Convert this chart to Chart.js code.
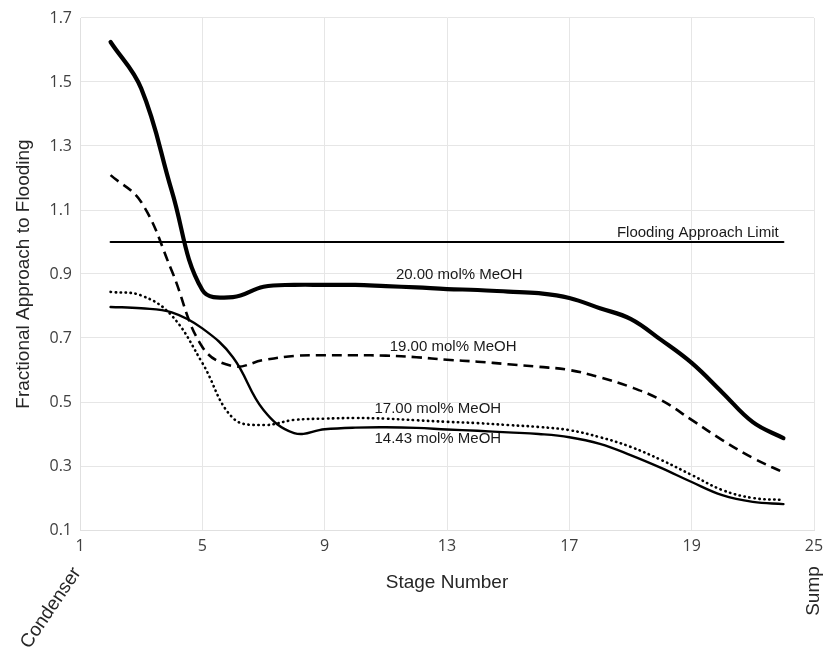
<!DOCTYPE html>
<html>
<head>
<meta charset="utf-8">
<script src="https://cdn.jsdelivr.net/npm/chart.js@4"></script>
<style>
  html, body { margin: 0; padding: 0; background: #fff; }
  #wrap { width: 825px; height: 651px; }
</style>
</head>
<body>
<div id="wrap"><canvas id="myChart" width="825" height="651"></canvas></div>
<script>
// stage numbers (x) and fractional approach to flooding per composition
var stages = [2, 3, 4, 5, 6, 7, 8, 9, 10, 11, 12, 13, 14, 15, 16, 17, 18, 19, 20, 21, 22, 23, 24]
var meoh2000 = [1.625, 1.48, 1.16, 0.85, 0.828, 0.86, 0.866, 0.866, 0.866, 0.862, 0.858, 0.853, 0.85, 0.845, 0.84, 0.825, 0.793, 0.76, 0.694, 0.622, 0.53, 0.437, 0.387]
var meoh1900 = [1.209, 1.125, 0.91, 0.672, 0.612, 0.631, 0.644, 0.646, 0.646, 0.645, 0.64, 0.632, 0.626, 0.618, 0.61, 0.6, 0.577, 0.547, 0.506, 0.444, 0.381, 0.325, 0.28]
var meoh1700 = [0.844, 0.833, 0.77, 0.622, 0.45, 0.428, 0.444, 0.448, 0.45, 0.448, 0.443, 0.438, 0.434, 0.428, 0.422, 0.412, 0.39, 0.36, 0.319, 0.272, 0.225, 0.2, 0.194]
var meoh1443 = [0.797, 0.793, 0.78, 0.73, 0.64, 0.475, 0.403, 0.415, 0.42, 0.421, 0.419, 0.414, 0.41, 0.405, 0.4, 0.39, 0.369, 0.334, 0.294, 0.25, 0.209, 0.188, 0.181]
var limitStages = [2, 24]
var limitValues = [1.0, 1.0]
var xTickLabels = ['1', '5', '9', '13', '17', '19', '25']
var seriesNames = ['20.00 mol% MeOH', '19.00 mol% MeOH', '17.00 mol% MeOH', '14.43 mol% MeOH', 'Flooding Approach Limit']

function pts(xs, ys) {
    return xs.map(function (x, i) { return { x: x, y: ys[i] } })
}

const labelFont = '15px "Liberation Sans", Arial, sans-serif'
const titleFont = { family: '"Liberation Sans", Arial, sans-serif', size: 19 }

// curve labels + the two end-of-column notes
const textPlugin = {
    id: 'curveText',
    afterDatasetsDraw(chart) {
        const ctx = chart.ctx
        const xs = chart.scales.x
        const ys = chart.scales.y
        const anchors = [[13.4, 0.897], [13.2, 0.672], [12.7, 0.48], [12.7, 0.384], [21.2, 1.03]]
        ctx.save()
        ctx.font = labelFont
        ctx.fillStyle = '#1a1a1a'
        ctx.textAlign = 'center'
        ctx.textBaseline = 'middle'
        anchors.forEach(function (a, i) {
            ctx.fillText(seriesNames[i], xs.getPixelForValue(a[0]), ys.getPixelForValue(a[1]))
        })
        ctx.font = '19px "Liberation Sans", Arial, sans-serif'
        ctx.fillStyle = '#262626'
        const bottom = chart.chartArea.bottom
        // Condenser
        ctx.save()
        ctx.translate(xs.getPixelForValue(1) - 29, bottom + 78)
        ctx.rotate(-56 * Math.PI / 180)
        ctx.fillText('Condenser', 0, 0)
        ctx.restore()
        // Sump
        ctx.save()
        ctx.translate(xs.getPixelForValue(25), bottom + 61)
        ctx.rotate(-Math.PI / 2)
        ctx.fillText('Sump', 0, 0)
        ctx.restore()
        ctx.restore()
    }
}

const ctx = document.getElementById('myChart')
const data = {
    datasets: [
        { label: seriesNames[0], data: pts(stages, meoh2000), borderColor: '#000', borderWidth: 4.2 },
        { label: seriesNames[1], data: pts(stages, meoh1900), borderColor: '#000', borderWidth: 2.6, borderDash: [10, 6], borderCapStyle: 'butt' },
        { label: seriesNames[2], data: pts(stages, meoh1700), borderColor: '#000', borderWidth: 2.6, borderDash: [0.4, 4.6] },
        { label: seriesNames[3], data: pts(stages, meoh1443), borderColor: '#000', borderWidth: 2.4 },
        { label: seriesNames[4], data: pts(limitStages, limitValues), borderColor: '#000', borderWidth: 2, tension: 0 }
    ]
}
const config = {
    type: 'line',
    data: data,
    options: {
        responsive: false,
        animation: false,
        layout: { padding: { top: 18, right: 11, left: 0, bottom: 0 } },
        elements: {
            point: { radius: 0 },
            line: { tension: 0.4, fill: false, borderCapStyle: 'round' }
        },
        plugins: {
            legend: { display: false },
            tooltip: { enabled: false }
        },
        scales: {
            x: {
                type: 'linear',
                min: 1,
                max: 25,
                afterFit: function (s) {
                    s.height = 121
                    s.paddingLeft = 0
                    s.paddingRight = 0
                },
                afterBuildTicks: function (s) {
                    s.ticks = xTickLabels.map(function (t, i) { return { value: 1 + i * 4 } })
                },
                ticks: {
                    padding: 7,
                    color: '#404040',
                    font: { family: '"Open Sans", sans-serif', size: 16 },
                    maxRotation: 0,
                    callback: function (v, i) { return xTickLabels[i] }
                },
                grid: { color: '#e6e6e6', drawTicks: false },
                border: { color: '#e0e0e0' },
                title: {
                    display: true,
                    text: 'Stage Number',
                    color: '#262626',
                    font: titleFont,
                    padding: { top: 0, bottom: 57 }
                }
            },
            y: {
                min: 0.1,
                max: 1.7,
                afterFit: function (s) { s.width = 80 },
                afterBuildTicks: function (s) {
                    var t = []
                    for (var i = 0; i <= 8; i++) t.push({ value: 0.1 + i * 0.2 })
                    s.ticks = t
                },
                ticks: {
                    padding: 8,
                    color: '#404040',
                    font: { family: '"Open Sans", sans-serif', size: 16 },
                    callback: function (v) { return v.toFixed(1) }
                },
                grid: { color: '#e6e6e6', drawTicks: false },
                border: { color: '#e0e0e0' },
                title: {
                    display: true,
                    text: 'Fractional Approach to Flooding',
                    color: '#262626',
                    font: titleFont,
                    padding: { top: 12, bottom: 0 }
                }
            }
        }
    },
    plugins: [textPlugin]
}
const chart = new Chart(ctx, config)
</script>
</body>
</html>
